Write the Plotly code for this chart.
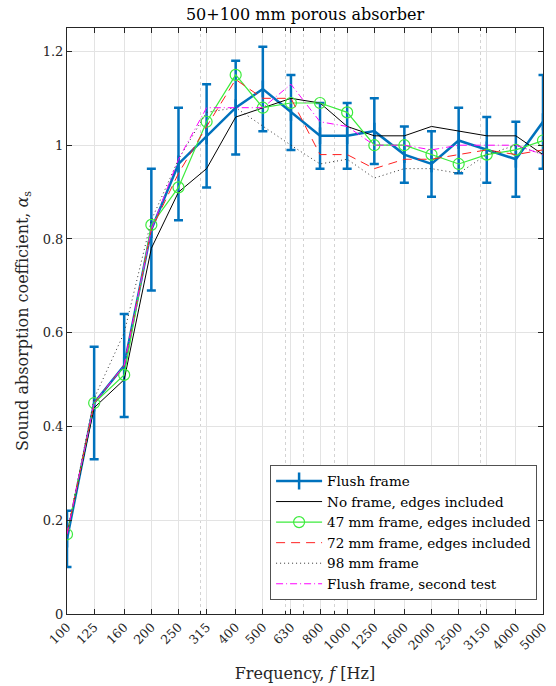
import plotly.graph_objects as go

freqs = [100, 125, 160, 200, 250, 315, 400, 500, 630, 800, 1000, 1250, 1600, 2000, 2500, 3150, 4000, 5000]
tick_labels = [str(f) for f in freqs]
minor_ticks = [300, 600, 700, 900, 3000]

flush = [0.16, 0.45, 0.53, 0.82, 0.96, 1.02, 1.08, 1.12, 1.07, 1.02, 1.02, 1.03, 0.98, 0.96, 1.01, 0.99, 0.97, 1.05]
flush_err = [0.06, 0.12, 0.11, 0.13, 0.12, 0.11, 0.10, 0.09, 0.08, 0.07, 0.07, 0.07, 0.06, 0.07, 0.07, 0.07, 0.08, 0.10]
no_frame = [0.17, 0.44, 0.50, 0.78, 0.90, 0.95, 1.06, 1.08, 1.10, 1.09, 1.04, 1.02, 1.02, 1.04, 1.03, 1.02, 1.02, 0.98]
frame_47 = [0.17, 0.45, 0.51, 0.83, 0.91, 1.05, 1.15, 1.08, 1.09, 1.09, 1.07, 1.00, 1.00, 0.98, 0.96, 0.98, 0.99, 1.01]
frame_72 = [0.17, 0.45, 0.53, 0.82, 0.94, 1.04, 1.14, 1.10, 1.10, 0.98, 0.98, 0.95, 0.97, 0.97, 0.98, 0.99, 0.98, 0.99]
frame_98 = [0.17, 0.46, 0.60, 0.84, 0.97, 1.07, 1.08, 1.04, 1.00, 0.96, 0.97, 0.93, 0.95, 0.95, 0.94, 0.98, 1.00, 0.98]
flush_2 = [0.17, 0.45, 0.53, 0.82, 0.97, 1.08, 1.08, 1.08, 1.13, 1.05, 1.04, 1.00, 1.00, 0.99, 1.00, 1.00, 1.00, 0.98]

FONT = "DejaVu Serif"

fig = go.Figure()
fig.add_trace(go.Scatter(
    x=freqs, y=flush, name="Flush frame", mode="lines+markers",
    line=dict(color="#0072BD", width=2.5),
    marker=dict(symbol="line-ns-open", size=12, color="#0072BD", line=dict(width=2.5, color="#0072BD")),
    error_y=dict(type="data", array=flush_err, visible=True, color="#0072BD", thickness=2.5, width=4.5),
))
fig.add_trace(go.Scatter(
    x=freqs, y=no_frame, name="No frame, edges included", mode="lines",
    line=dict(color="#000000", width=1),
))
fig.add_trace(go.Scatter(
    x=freqs, y=frame_47, name="47 mm frame, edges included", mode="lines+markers",
    line=dict(color="rgb(60,235,60)", width=1.2),
    marker=dict(symbol="circle-open", size=11, color="rgb(60,235,60)", line=dict(width=1.2)),
))
fig.add_trace(go.Scatter(
    x=freqs, y=frame_72, name="72 mm frame, edges included", mode="lines",
    line=dict(color="#FF2020", width=1, dash="9px,6px"),
))
fig.add_trace(go.Scatter(
    x=freqs, y=frame_98, name="98 mm frame", mode="lines",
    line=dict(color="#333333", width=1, dash="1px,3px"),
))
fig.add_trace(go.Scatter(
    x=freqs, y=flush_2, name="Flush frame, second test", mode="lines",
    line=dict(color="#FF00FF", width=1, dash="7px,3px,1px,3px"),
))

fig.update_layout(
    width=556, height=686,
    margin=dict(l=67, r=13, t=28, b=72),
    paper_bgcolor="white", plot_bgcolor="white",
    font=dict(family=FONT, size=13, color="#262626"),
    title=dict(text="50+100 mm porous absorber", xref="paper", x=0.5, xanchor="center",
               yref="container", y=0.979, yanchor="middle",
               font=dict(family=FONT, size=16, color="#000000")),
    showlegend=True,
    legend=dict(
        x=0.988, xanchor="right", y=0.024, yanchor="bottom",
        bgcolor="white", bordercolor="#262626", borderwidth=0.8,
        font=dict(family=FONT, size=13.5, color="#000000"),
        tracegroupgap=0, itemwidth=46,
    ),
)

fig.update_xaxes(
    type="log", range=[2, 3.69897], automargin=False,
    tickmode="array", tickvals=freqs, ticktext=tick_labels, tickangle=-45,
    ticks="inside", ticklen=5, tickcolor="#262626",
    showline=True, linecolor="#262626", linewidth=1, mirror="allticks",
    showgrid=True, gridcolor="#e3e3e3", gridwidth=1,
    minor=dict(tickvals=minor_ticks, ticks="inside", ticklen=3, tickcolor="#262626",
               showgrid=True, gridcolor="#d3d3d3", griddash="dot", gridwidth=1),
    tickfont=dict(family=FONT, size=12.5, color="#262626"),
    title=dict(text="Frequency, <i>f</i> [Hz]", font=dict(family=FONT, size=16, color="#262626"), standoff=16),
    zeroline=False,
)
fig.update_yaxes(
    range=[0, 1.25], automargin=False,
    tickmode="array", tickvals=[0, 0.2, 0.4, 0.6, 0.8, 1.0, 1.2],
    ticktext=["0", "0.2", "0.4", "0.6", "0.8", "1", "1.2"],
    ticks="inside", ticklen=5, tickcolor="#262626",
    showline=True, linecolor="#262626", linewidth=1, mirror="allticks",
    showgrid=True, gridcolor="#e3e3e3", gridwidth=1,
    tickfont=dict(family=FONT, size=13, color="#262626"),
    title=dict(text="Sound absorption coefficient, <i>α</i><sub>s</sub>", font=dict(family=FONT, size=16, color="#262626"), standoff=10),
    zeroline=False,
)

fig.write_html(
    "out.html",
    config={"displayModeBar": False},
    post_script="document.body.style.margin='0px';document.body.style.overflow='hidden';",
)
